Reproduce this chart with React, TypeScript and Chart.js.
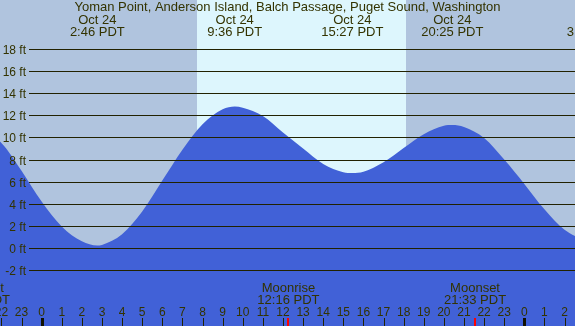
import React, { useEffect, useRef } from "react";
import { Chart, registerables } from "chart.js";

Chart.register(...registerables);

// ---- Data ----
const titleText = "Yoman Point, Anderson Island, Balch Passage, Puget Sound, Washington";

// tide height (ft) against hours since Oct 24 00:00 PDT
const tideHours = [-4, -3, -2, -1, 0, 1, 2, 2.77, 3, 4, 5, 6, 7, 8, 9, 9.6, 10, 11, 12, 13, 14, 15, 15.45, 16, 17, 18, 19, 20, 20.42, 21, 22, 23, 24, 25, 26, 27, 27.47, 28];
const tideFeet = [11.2, 10.7, 9.5, 7.0, 4.2, 1.95, 0.6, 0.22, 0.28, 1.25, 3.3, 6.1, 8.9, 11.2, 12.55, 12.8, 12.7, 11.95, 10.45, 9.0, 7.6, 6.85, 6.78, 6.9, 7.75, 9.05, 10.3, 11.05, 11.12, 10.95, 9.95, 8.0, 5.8, 3.5, 1.65, 0.75, 0.6, 0.7];

// high / low tide labels
const eventHours = [2.77, 9.6, 15.45, 20.42, 27.47];
const eventDates = ["Oct 24", "Oct 24", "Oct 24", "Oct 24", "Oct 25"];
const eventTimes = ["2:46 PDT", "9:36 PDT", "15:27 PDT", "20:25 PDT", "3:28 PDT"];

// moon events
const moonHours = [-3.12, 12.27, 21.55];
const moonNames = ["Moonset", "Moonrise", "Moonset"];
const moonTimes = ["20:53 PDT", "12:16 PDT", "21:33 PDT"];

// daylight
const sunriseHour = 7.72;
const sunsetHour = 18.12;

// axes
const yTicks = [-2, 0, 2, 4, 6, 8, 10, 12, 14, 16, 18];
const hourTicks = [-2, -1, 0, 1, 2, 3, 4, 5, 6, 7, 8, 9, 10, 11, 12, 13, 14, 15, 16, 17, 18, 19, 20, 21, 22, 23, 24, 25, 26];
const xMin = -2.07;
const xMax = 26.52;
const yMin = -7.06;
const yMax = 22.44;

// ---- Styles ----
const NIGHT = "#B0C4DE";
const DAY = "#DDF6FD";
const WATER = "#4161D7";
const TEXT = "#333300";
const LINE = "#222200";
const FONT = "'Liberation Sans', Arial, sans-serif";

const decorPlugin = {
  id: "tideDecor",
  beforeDatasetsDraw(chart: any) {
    const { ctx, chartArea, scales } = chart;
    const xs = scales.x;
    ctx.save();
    ctx.fillStyle = NIGHT;
    ctx.fillRect(chartArea.left, chartArea.top, chartArea.right - chartArea.left, chartArea.bottom - chartArea.top);
    const x1 = Math.round(xs.getPixelForValue(sunriseHour));
    const x2 = Math.round(xs.getPixelForValue(sunsetHour));
    ctx.fillStyle = DAY;
    ctx.fillRect(x1, chartArea.top, x2 - x1, chartArea.bottom - chartArea.top);
    ctx.restore();
  },
  afterDatasetsDraw(chart: any) {
    const { ctx, chartArea, scales } = chart;
    const xs = scales.x;
    const ys = scales.y;
    const W = chartArea.right;
    const H = chartArea.bottom;
    ctx.save();

    // horizontal grid lines + labels
    ctx.strokeStyle = LINE;
    ctx.lineWidth = 1;
    ctx.font = `12px ${FONT}`;
    ctx.fillStyle = TEXT;
    ctx.textAlign = "right";
    ctx.textBaseline = "alphabetic";
    yTicks.forEach((v) => {
      const py = Math.round(ys.getPixelForValue(v));
      ctx.beginPath();
      ctx.moveTo(29, py + 0.5);
      ctx.lineTo(W, py + 0.5);
      ctx.stroke();
      ctx.fillText(`${v} ft`, 26, py + 4.5);
    });

    // title
    ctx.textAlign = "center";
    ctx.font = `13px ${FONT}`;
    ctx.fillText(titleText, W / 2, 11);

    // tide events
    eventHours.forEach((h, i) => {
      const px = xs.getPixelForValue(h);
      ctx.fillText(eventDates[i], px, 24);
      ctx.fillText(eventTimes[i], px, 36);
    });

    // moon events
    moonHours.forEach((h, i) => {
      const px = xs.getPixelForValue(h);
      ctx.fillText(moonNames[i], px, 292);
      ctx.fillText(moonTimes[i], px, 304);
    });

    // hour labels and ticks
    ctx.font = `12px ${FONT}`;
    hourTicks.forEach((h) => {
      const px = xs.getPixelForValue(h);
      const lbl = String(((h % 24) + 24) % 24);
      ctx.fillStyle = TEXT;
      ctx.fillText(lbl, px, 316);
      const midnight = ((h % 24) + 24) % 24 === 0;
      if (midnight) {
        ctx.fillStyle = "#111100";
        ctx.fillRect(Math.round(px) - 1, 318, 3, H - 318);
      } else {
        ctx.fillStyle = LINE;
        ctx.fillRect(Math.round(px), 318, 1, H - 318);
      }
    });

    // moon ticks
    ctx.fillStyle = "#FF0000";
    moonHours.forEach((h) => {
      const px = xs.getPixelForValue(h);
      ctx.fillRect(Math.round(px) - 1, 318, 2, H - 318);
    });

    ctx.restore();
  },
};

export default function App() {
  const canvasRef = useRef<HTMLCanvasElement | null>(null);

  useEffect(() => {
    if (!canvasRef.current) return;
    const chart = new Chart(canvasRef.current, {
      type: "line",
      data: {
        datasets: [
          {
            data: tideHours.map((h, i) => ({ x: h, y: tideFeet[i] })),
            fill: "start",
            backgroundColor: WATER,
            borderWidth: 0,
            borderColor: WATER,
            pointRadius: 0,
            cubicInterpolationMode: "monotone",
          },
        ],
      },
      options: {
        responsive: false,
        animation: false,
        layout: { padding: 0 },
        plugins: {
          legend: { display: false },
          tooltip: { enabled: false },
          title: { display: false },
        },
        scales: {
          x: { type: "linear", min: xMin, max: xMax, display: false },
          y: { type: "linear", min: yMin, max: yMax, display: false },
        },
      },
      plugins: [decorPlugin],
    });
    return () => chart.destroy();
  }, []);

  return (
    <div style={{ position: "fixed", left: 0, top: 0, width: 575, height: 326 }}>
      <canvas ref={canvasRef} width={575} height={326} style={{ display: "block" }} />
    </div>
  );
}
